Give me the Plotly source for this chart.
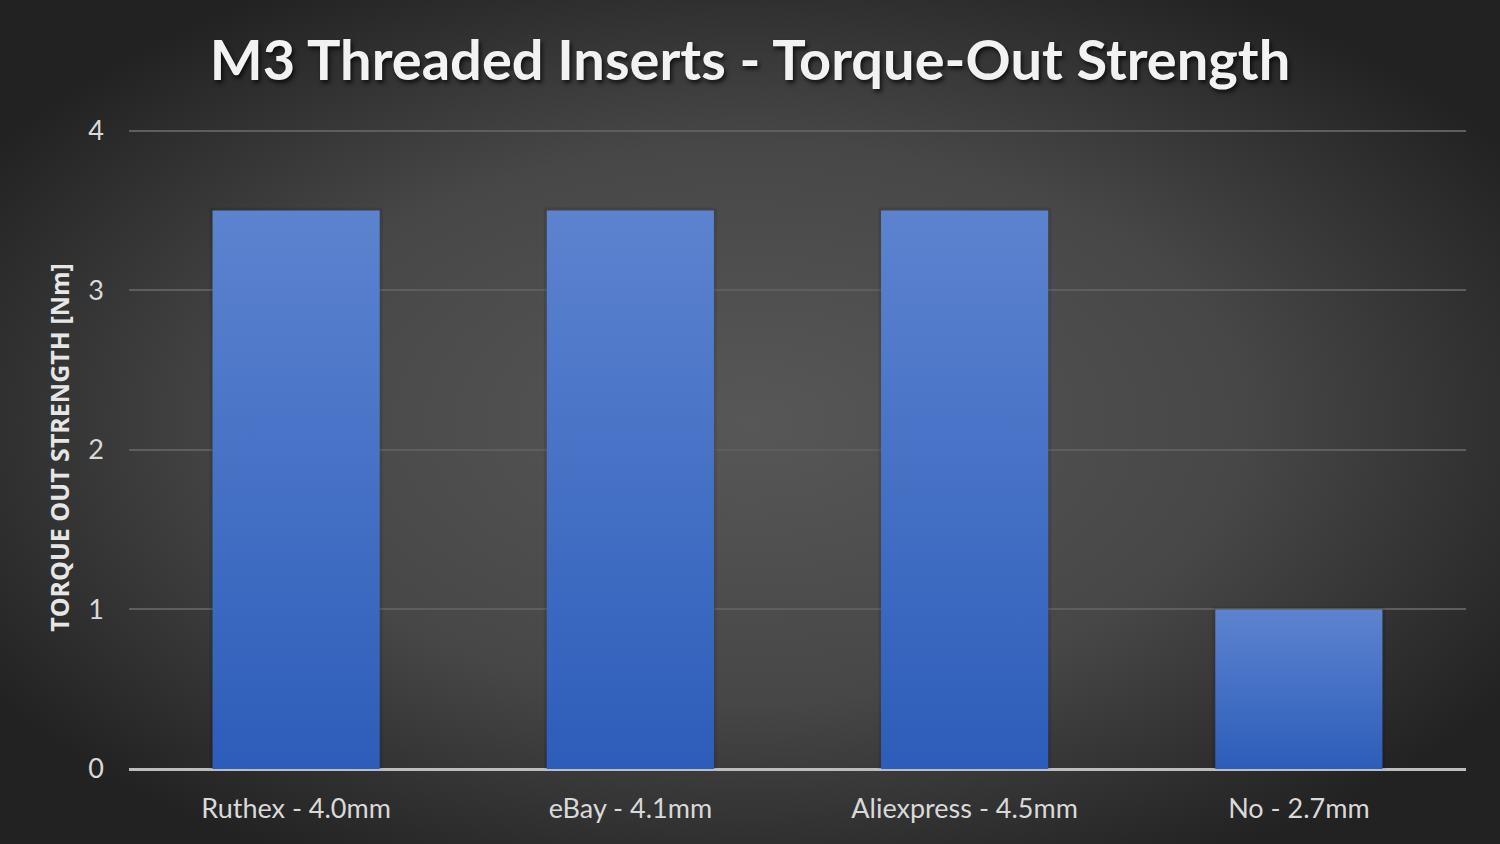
import base64
import plotly.graph_objects as go

categories = ["Ruthex - 4.0mm", "eBay - 4.1mm", "Aliexpress - 4.5mm", "No - 2.7mm"]
torque = [3.5, 3.5, 3.5, 1.0]
y_ticks = [0, 1, 2, 3, 4]

W, H = 1500, 844
L, R, T, B = 129, 34, 126, 75
bar_half = 0.25

# radial background as an svg image stretched over the page
svg = f'''<svg xmlns="http://www.w3.org/2000/svg" width="{W}" height="{H}">
<defs><radialGradient id="g" cx="50%" cy="50%" r="60%">
<stop offset="0%" stop-color="#575757"/><stop offset="55%" stop-color="#474747"/>
<stop offset="100%" stop-color="#222222"/></radialGradient></defs>
<rect width="100%" height="100%" fill="url(#g)"/></svg>'''
bg = "data:image/svg+xml;base64," + base64.b64encode(svg.encode()).decode()

fig = go.Figure()
for i, v in enumerate(torque):
    xs = [i - bar_half, i - bar_half, i + bar_half, i + bar_half, i - bar_half]
    ys = [0, v, v, 0, 0]
    # soft shadow behind the bar
    fig.add_trace(go.Scatter(
        x=xs, y=ys, mode="lines", line=dict(width=6, color="rgba(0,0,0,0.09)"),
        hoverinfo="skip", showlegend=False,
    ))
    fig.add_trace(go.Scatter(
        x=xs, y=ys, mode="lines", line=dict(width=0), fill="toself",
        fillgradient=dict(type="vertical",
                          colorscale=[[0, "#2d5dba"], [1, "#5c83cf"]]),
        hoverinfo="skip", showlegend=False,
    ))

pw, ph = W - L - R, H - T - B
fig.add_layout_image(dict(
    source=bg, xref="paper", yref="paper",
    x=-L / pw, y=1 + T / ph, sizex=W / pw, sizey=H / ph,
    xanchor="left", yanchor="top", sizing="stretch", layer="below",
))

fig.update_layout(
    width=W, height=H,
    margin=dict(l=L, r=R, t=T, b=B),
    paper_bgcolor="#3c3c3c", plot_bgcolor="rgba(0,0,0,0)",
    title=dict(text="M3 Threaded Inserts - Torque-Out Strength",
               x=0.5, xref="container", xanchor="center", y=0.929, yanchor="middle",
               font=dict(family="Lato", size=56, color="#f2f2f2", weight="bold",
                         shadow="2px 3px 4px rgba(0,0,0,0.7)")),
    font=dict(family="Lato", color="#d9d9d9"),
)
fig.update_xaxes(
    range=[-0.5, len(categories) - 0.5],
    tickvals=list(range(len(categories))), ticktext=categories,
    tickfont=dict(size=27, color="#d9d9d9"), ticks="", showgrid=False,
    zeroline=False, showline=False, ticklabelstandoff=21,
)
fig.update_yaxes(
    range=[0, 4.03], tickvals=y_ticks, tickfont=dict(size=27, color="#d9d9d9"),
    showgrid=True, gridcolor="#5e5e5e", gridwidth=1.5,
    zeroline=True, zerolinecolor="#bdbdbd", zerolinewidth=2.5,
    ticks="", ticklabelstandoff=24,
    title=dict(text="TORQUE OUT STRENGTH [Nm]", standoff=11,
               font=dict(family="Open Sans", size=25, color="#e6e6e6", weight="bold")),
)
fig.write_html("out.html", config={"displayModeBar": False},
               post_script="document.body.style.margin='0';document.body.style.overflow='hidden';")
